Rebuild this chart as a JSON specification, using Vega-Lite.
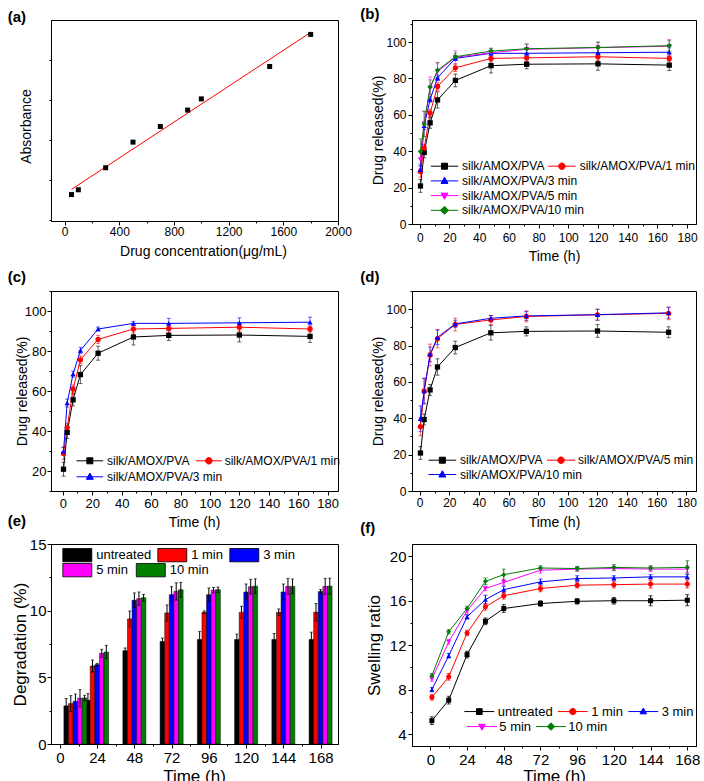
{
"$schema": "https://vega.github.io/schema/vega-lite/v6.json",
"padding": {"left": 7, "top": 6, "right": 0, "bottom": 0},
"config": {
  "font": "Liberation Sans",
  "view": {"stroke": "#000000", "strokeWidth": 1},
  "axis": {"domainColor": "#000000", "domainWidth": 1, "tickColor": "#000000", "tickWidth": 1, "tickSize": 4, "labelColor": "#000000", "titleColor": "#000000", "grid": false, "labelFont": "Liberation Sans", "titleFont": "Liberation Sans", "titleFontWeight": "normal", "labelOverlap": false, "labelFlush": false, "labelPadding": 2, "titleBaseline": "middle", "titleAlign": "center"},
  "legend": {"labelFont": "Liberation Sans", "labelColor": "#000000", "padding": 0},
  "title": {"font": "Liberation Sans", "fontSize": 15, "fontWeight": "bold", "anchor": "start", "frame": "group", "offset": 0, "baseline": "alphabetic", "color": "#000000"}
},
"datasets": {
  "calib": [{"c":50,"a":0.13},{"c":100,"a":0.25},{"c":300,"a":0.8},{"c":500,"a":1.44},{"c":700,"a":1.83},{"c":900,"a":2.24},{"c":1000,"a":2.52},{"c":1500,"a":3.33},{"c":1800,"a":4.13}],
  "calibfit": [{"c":50,"a":0.26},{"c":1800,"a":4.18}],
  "release": [
    {"s":"silk/AMOX/PVA","t":0.5,"v":20.9,"e":3.5},{"s":"silk/AMOX/PVA","t":3,"v":39.3,"e":3},{"s":"silk/AMOX/PVA","t":7,"v":55.6,"e":3},{"s":"silk/AMOX/PVA","t":12,"v":68.2,"e":4.5},{"s":"silk/AMOX/PVA","t":24,"v":78.9,"e":3.5},{"s":"silk/AMOX/PVA","t":48,"v":87.0,"e":4},{"s":"silk/AMOX/PVA","t":72,"v":87.8,"e":2.5},{"s":"silk/AMOX/PVA","t":120,"v":88.0,"e":3.5},{"s":"silk/AMOX/PVA","t":168,"v":87.3,"e":3},
    {"s":"silk/AMOX/PVA/1 min","t":0.5,"v":28.8,"e":3},{"s":"silk/AMOX/PVA/1 min","t":3,"v":41.7,"e":2},{"s":"silk/AMOX/PVA/1 min","t":7,"v":61.0,"e":2},{"s":"silk/AMOX/PVA/1 min","t":12,"v":75.6,"e":2},{"s":"silk/AMOX/PVA/1 min","t":24,"v":85.8,"e":2},{"s":"silk/AMOX/PVA/1 min","t":48,"v":91.0,"e":2},{"s":"silk/AMOX/PVA/1 min","t":72,"v":91.3,"e":2},{"s":"silk/AMOX/PVA/1 min","t":120,"v":91.9,"e":2},{"s":"silk/AMOX/PVA/1 min","t":168,"v":91.0,"e":1.5},
    {"s":"silk/AMOX/PVA/3 min","t":0.5,"v":29.9,"e":2},{"s":"silk/AMOX/PVA/3 min","t":3,"v":54.0,"e":2},{"s":"silk/AMOX/PVA/3 min","t":7,"v":68.5,"e":1.5},{"s":"silk/AMOX/PVA/3 min","t":12,"v":80.3,"e":1.5},{"s":"silk/AMOX/PVA/3 min","t":24,"v":91.0,"e":1},{"s":"silk/AMOX/PVA/3 min","t":48,"v":93.8,"e":1},{"s":"silk/AMOX/PVA/3 min","t":72,"v":93.8,"e":2.5},{"s":"silk/AMOX/PVA/3 min","t":120,"v":94.1,"e":2.5},{"s":"silk/AMOX/PVA/3 min","t":168,"v":94.4,"e":2.5},
    {"s":"silk/AMOX/PVA/5 min","t":0.5,"v":35.4,"e":5},{"s":"silk/AMOX/PVA/5 min","t":3,"v":55.0,"e":7},{"s":"silk/AMOX/PVA/5 min","t":7,"v":74.8,"e":6},{"s":"silk/AMOX/PVA/5 min","t":12,"v":83.8,"e":5},{"s":"silk/AMOX/PVA/5 min","t":24,"v":91.6,"e":3.5},{"s":"silk/AMOX/PVA/5 min","t":48,"v":94.1,"e":2.5},{"s":"silk/AMOX/PVA/5 min","t":72,"v":96.0,"e":3},{"s":"silk/AMOX/PVA/5 min","t":120,"v":96.9,"e":3},{"s":"silk/AMOX/PVA/5 min","t":168,"v":97.7,"e":3.5},
    {"s":"silk/AMOX/PVA/10 min","t":0.5,"v":39.8,"e":7},{"s":"silk/AMOX/PVA/10 min","t":3,"v":55.0,"e":7},{"s":"silk/AMOX/PVA/10 min","t":7,"v":75.2,"e":4},{"s":"silk/AMOX/PVA/10 min","t":12,"v":84.5,"e":4},{"s":"silk/AMOX/PVA/10 min","t":24,"v":91.9,"e":2},{"s":"silk/AMOX/PVA/10 min","t":48,"v":95.0,"e":1.5},{"s":"silk/AMOX/PVA/10 min","t":72,"v":96.3,"e":2.5},{"s":"silk/AMOX/PVA/10 min","t":120,"v":97.0,"e":3},{"s":"silk/AMOX/PVA/10 min","t":168,"v":98.0,"e":3}
  ],
  "degr": [
    {"s":"untreated","t":10,"v":2.86,"e":0.55},{"s":"untreated","t":24,"v":3.28,"e":0.5},{"s":"untreated","t":48,"v":7.0,"e":0.2},{"s":"untreated","t":72,"v":7.69,"e":0.25},{"s":"untreated","t":96,"v":7.84,"e":0.6},{"s":"untreated","t":120,"v":7.84,"e":0.4},{"s":"untreated","t":144,"v":7.84,"e":0.45},{"s":"untreated","t":168,"v":7.84,"e":0.55},
    {"s":"1 min","t":10,"v":3.03,"e":0.6},{"s":"1 min","t":24,"v":5.85,"e":0.45},{"s":"1 min","t":48,"v":9.38,"e":0.6},{"s":"1 min","t":72,"v":9.83,"e":0.6},{"s":"1 min","t":96,"v":9.88,"e":0.1},{"s":"1 min","t":120,"v":9.88,"e":0.45},{"s":"1 min","t":144,"v":9.88,"e":0.25},{"s":"1 min","t":168,"v":9.88,"e":0.65},
    {"s":"3 min","t":10,"v":3.2,"e":0.55},{"s":"3 min","t":24,"v":5.95,"e":0.1},{"s":"3 min","t":48,"v":10.78,"e":0.55},{"s":"3 min","t":72,"v":11.2,"e":0.6},{"s":"3 min","t":96,"v":11.2,"e":0.5},{"s":"3 min","t":120,"v":11.4,"e":0.6},{"s":"3 min","t":144,"v":11.4,"e":0.6},{"s":"3 min","t":168,"v":11.44,"e":0.15},
    {"s":"5 min","t":10,"v":3.43,"e":0.65},{"s":"5 min","t":24,"v":6.8,"e":0.3},{"s":"5 min","t":48,"v":10.9,"e":0.5},{"s":"5 min","t":72,"v":11.44,"e":0.65},{"s":"5 min","t":96,"v":11.54,"e":0.2},{"s":"5 min","t":120,"v":11.8,"e":0.55},{"s":"5 min","t":144,"v":11.82,"e":0.6},{"s":"5 min","t":168,"v":11.82,"e":0.6},
    {"s":"10 min","t":10,"v":3.45,"e":0.2},{"s":"10 min","t":24,"v":6.9,"e":0.5},{"s":"10 min","t":48,"v":10.97,"e":0.25},{"s":"10 min","t":72,"v":11.57,"e":0.55},{"s":"10 min","t":96,"v":11.57,"e":0.2},{"s":"10 min","t":120,"v":11.84,"e":0.55},{"s":"10 min","t":144,"v":11.82,"e":0.55},{"s":"10 min","t":168,"v":11.84,"e":0.6}
  ],
  "swell": [
    {"s":"untreated","t":1,"v":5.2,"e":0.35},{"s":"untreated","t":12,"v":7.05,"e":0.35},{"s":"untreated","t":24,"v":11.15,"e":0.3},{"s":"untreated","t":36,"v":14.15,"e":0.3},{"s":"untreated","t":48,"v":15.3,"e":0.35},{"s":"untreated","t":72,"v":15.75,"e":0.25},{"s":"untreated","t":96,"v":15.95,"e":0.25},{"s":"untreated","t":120,"v":16.0,"e":0.3},{"s":"untreated","t":144,"v":16.0,"e":0.45},{"s":"untreated","t":168,"v":16.05,"e":0.5},
    {"s":"1 min","t":1,"v":7.3,"e":0.25},{"s":"1 min","t":12,"v":9.15,"e":0.3},{"s":"1 min","t":24,"v":13.1,"e":0.25},{"s":"1 min","t":36,"v":15.45,"e":0.3},{"s":"1 min","t":48,"v":16.45,"e":0.3},{"s":"1 min","t":72,"v":17.1,"e":0.3},{"s":"1 min","t":96,"v":17.4,"e":0.25},{"s":"1 min","t":120,"v":17.45,"e":0.3},{"s":"1 min","t":144,"v":17.5,"e":0.35},{"s":"1 min","t":168,"v":17.5,"e":0.35},
    {"s":"3 min","t":1,"v":8.0,"e":0.2},{"s":"3 min","t":12,"v":11.05,"e":0.2},{"s":"3 min","t":24,"v":14.55,"e":0.2},{"s":"3 min","t":36,"v":16.1,"e":0.4},{"s":"3 min","t":48,"v":17.0,"e":0.3},{"s":"3 min","t":72,"v":17.7,"e":0.25},{"s":"3 min","t":96,"v":18.0,"e":0.25},{"s":"3 min","t":120,"v":18.05,"e":0.2},{"s":"3 min","t":144,"v":18.15,"e":0.2},{"s":"3 min","t":168,"v":18.15,"e":0.2},
    {"s":"5 min","t":1,"v":8.95,"e":0.2},{"s":"5 min","t":12,"v":12.3,"e":0.2},{"s":"5 min","t":24,"v":15.1,"e":0.2},{"s":"5 min","t":36,"v":17.1,"e":0.2},{"s":"5 min","t":48,"v":17.65,"e":0.25},{"s":"5 min","t":72,"v":18.75,"e":0.25},{"s":"5 min","t":96,"v":18.85,"e":0.2},{"s":"5 min","t":120,"v":18.9,"e":0.2},{"s":"5 min","t":144,"v":18.85,"e":0.2},{"s":"5 min","t":168,"v":18.85,"e":0.3},
    {"s":"10 min","t":1,"v":9.25,"e":0.2},{"s":"10 min","t":12,"v":13.2,"e":0.2},{"s":"10 min","t":24,"v":15.3,"e":0.2},{"s":"10 min","t":36,"v":17.75,"e":0.3},{"s":"10 min","t":48,"v":18.35,"e":0.5},{"s":"10 min","t":72,"v":18.95,"e":0.2},{"s":"10 min","t":96,"v":18.9,"e":0.2},{"s":"10 min","t":120,"v":19.0,"e":0.25},{"s":"10 min","t":144,"v":18.95,"e":0.2},{"s":"10 min","t":168,"v":19.0,"e":0.6}
  ]
},
"bounds": "flush",
"spacing": 524,
"resolve": {"scale": {"color": "independent"}, "legend": {"color": "independent"}},
"vconcat": [
 {"bounds": "flush", "spacing": 271,
  "resolve": {"scale": {"color": "independent"}, "legend": {"color": "independent"}},
  "vconcat": [
   {"bounds": "flush", "spacing": 74,
    "resolve": {"scale": {"color": "independent"}, "legend": {"color": "independent"}},
    "hconcat": [
     {"width": 287, "height": 201,
      "title": {"text": "(a)", "dx": -43.3, "dy": 9},
      "data": {"name": "calib"},
      "encoding": {
        "x": {"field": "c", "type": "quantitative", "scale": {"domain": [-100, 2000], "nice": false, "zero": false}, "axis": {"values": [0,200,400,600,800,1000,1200,1400,1600,1800,2000], "format": "d", "labelExpr": "datum.value % 400 === 0 ? datum.label : ''", "tickSize": {"condition": {"test": "datum.value % 400 !== 0", "value": 2}, "value": 4}, "title": "Drug concentration(μg/mL)", "labelFontSize": 12, "titleFontSize": 14, "labelPadding": 1, "titleX": 152, "titleY": 30}},
        "y": {"field": "a", "type": "quantitative", "scale": {"domain": [-0.53, 4.49], "nice": false, "zero": false}, "axis": {"values": [-0.5,0,0.5,1,1.5,2,2.5,3,3.5,4], "format": "d", "labelExpr": "datum.value % 1 === 0 ? datum.label : ''", "tickSize": {"condition": {"test": "datum.value % 1 !== 0", "value": 2}, "value": 4}, "title": "Absorbance", "labelFontSize": 12, "titleFontSize": 14, "labelPadding": 3, "titleX": -25, "titleY": 106}}
      },
      "layer": [
        {"data": {"name": "calibfit"}, "mark": {"type": "line", "color": "#ff0000", "strokeWidth": 1}},
        {"mark": {"type": "square", "color": "#000000", "size": 25, "opacity": 1}},
        {"data": {"values": [{}]}, "mark": {"type": "text", "align": "left", "baseline": "alphabetic", "fontSize": 12, "color": "#000000"},
         "encoding": {"x": {"datum": 1070}, "y": {"datum": 0.335}, "text": {"value": "y=0.00224x+0.14766"}}},
        {"data": {"values": [{}]}, "mark": {"type": "text", "align": "left", "baseline": "alphabetic", "fontSize": 12, "color": "#000000"},
         "encoding": {"x": {"datum": 1070}, "y": {"datum": -0.065}, "text": {"value": "R²=0.9957"}}}
      ]
     },
     {"bounds": "flush", "spacing": 0,
      "resolve": {"scale": {"color": "independent"}, "legend": {"color": "independent"}},
      "hconcat": [
       {"width": 284, "height": 204,
        "title": {"text": "(b)", "dx": -51.7, "dy": 8},
        "data": {"name": "release"},
        "encoding": {
          "x": {"field": "t", "type": "quantitative", "scale": {"domain": [-5.2, 186], "nice": false, "zero": false}, "axis": {"values": [0,10,20,30,40,50,60,70,80,90,100,110,120,130,140,150,160,170,180], "labelExpr": "datum.value % 20 === 0 ? datum.label : ''", "tickSize": {"condition": {"test": "datum.value % 20 !== 0", "value": 2}, "value": 4}, "title": "Time (h)", "labelFontSize": 12, "titleFontSize": 14, "labelPadding": 4, "titleX": 142, "titleY": 32}},
          "y": {"field": "v", "type": "quantitative", "scale": {"domain": [0, 112.1], "nice": false, "zero": false}, "axis": {"values": [0,10,20,30,40,50,60,70,80,90,100,110], "labelExpr": "datum.value % 20 === 0 ? datum.label : ''", "tickSize": {"condition": {"test": "datum.value % 20 !== 0", "value": 2}, "value": 4}, "title": "Drug released(%)", "labelFontSize": 12, "titleFontSize": 14, "labelPadding": 2, "titleX": -34, "titleY": 110}},
          "color": {"field": "s", "type": "nominal",
            "scale": {"domain": ["silk/AMOX/PVA","silk/AMOX/PVA/1 min","silk/AMOX/PVA/3 min","silk/AMOX/PVA/5 min","silk/AMOX/PVA/10 min"], "range": ["#000000","#ff0000","#0000ff","#ff00ff","#008000"]},
            "legend": {"orient": "none", "direction": "vertical", "legendX": 26.5, "legendY": 140.2, "title": null, "values": ["silk/AMOX/PVA","silk/AMOX/PVA/3 min","silk/AMOX/PVA/5 min","silk/AMOX/PVA/10 min"], "rowPadding": 2.7, "labelOffset": 11.5, "labelFontSize": 12, "symbolSize": 100, "symbolStrokeWidth": 1, "padding": 0,
              "encode": {"symbols": {"update": {
                "shape": {"signal": "['M-2.74,0H2.74M-0.6,-0.6H0.6V0.6H-0.6Z','M-2.74,0H2.74M0,-0.75L0.7,0.5H-0.7Z','M-2.74,0H2.74M0,0.75L0.7,-0.5H-0.7Z','M-2.74,0H2.74M0,-0.8L0.8,0L0,0.8L-0.8,0Z'][datum.index]"},
                "fill": {"signal": "['#000000','#0000ff','#ff00ff','#008000'][datum.index]"},
                "stroke": {"signal": "['#000000','#0000ff','#ff00ff','#008000'][datum.index]"},
                "strokeWidth": {"value": 1},
                "opacity": {"value": 1}}}}}}
        },
        "layer": [
          {"mark": {"type": "errorbar", "ticks": {"size": 4, "opacity": 0.6}, "rule": {"opacity": 0.6}, "thickness": 1}, "encoding": {"yError": {"field": "e"}}},
          {"mark": {"type": "line", "strokeWidth": 1}},
          {"transform": [{"filter": {"field": "s", "equal": "silk/AMOX/PVA"}}], "mark": {"type": "point", "shape": "square", "filled": true, "size": 28, "opacity": 1}},
          {"transform": [{"filter": {"field": "s", "equal": "silk/AMOX/PVA/1 min"}}], "mark": {"type": "point", "shape": "circle", "filled": true, "size": 28, "opacity": 1}},
          {"transform": [{"filter": {"field": "s", "equal": "silk/AMOX/PVA/3 min"}}], "mark": {"type": "point", "shape": "triangle-up", "filled": true, "size": 28, "opacity": 1}},
          {"transform": [{"filter": {"field": "s", "equal": "silk/AMOX/PVA/5 min"}}], "mark": {"type": "point", "shape": "triangle-down", "filled": true, "size": 28, "opacity": 1}},
          {"transform": [{"filter": {"field": "s", "equal": "silk/AMOX/PVA/10 min"}}], "mark": {"type": "point", "shape": "diamond", "filled": true, "size": 28, "opacity": 1}}
        ]
       },
       {"width": 1, "height": 1, "view": {"stroke": null},
        "data": {"name": "release"},
        "transform": [{"filter": {"field": "s", "equal": "silk/AMOX/PVA/1 min"}}],
        "mark": {"type": "point", "filled": true, "opacity": 0},
        "encoding": {"color": {"field": "s", "type": "nominal", "scale": {"domain": ["silk/AMOX/PVA/1 min"], "range": ["#ff0000"]},
          "legend": {"orient": "none", "direction": "vertical", "legendX": -140.1, "legendY": 140.2, "title": null, "labelOffset": 11.8, "labelFontSize": 12, "symbolSize": 100, "symbolStrokeWidth": 1, "padding": 0,
            "encode": {"symbols": {"update": {
              "shape": {"signal": "'M-2.74,0H2.74M0.65,0A0.65,0.65,0,1,1,-0.65,0A0.65,0.65,0,1,1,0.65,0Z'"},
              "fill": {"signal": "'#ff0000'"}, "stroke": {"signal": "'#ff0000'"},
              "strokeWidth": {"value": 1}, "opacity": {"value": 1}}}}}}}
       }
      ]
     }
    ]
   },
   {"bounds": "flush", "spacing": 74,
    "resolve": {"scale": {"color": "independent"}, "legend": {"color": "independent"}},
    "hconcat": [
     {"width": 287, "height": 200,
      "title": {"text": "(c)", "dx": -43.3, "dy": 4},
      "data": {"name": "release"},
      "transform": [{"filter": {"field": "s", "oneOf": ["silk/AMOX/PVA","silk/AMOX/PVA/1 min","silk/AMOX/PVA/3 min"]}}],
      "encoding": {
        "x": {"field": "t", "type": "quantitative", "scale": {"domain": [-8, 187], "nice": false, "zero": false}, "axis": {"values": [0,10,20,30,40,50,60,70,80,90,100,110,120,130,140,150,160,170,180], "labelExpr": "datum.value % 20 === 0 ? datum.label : ''", "tickSize": {"condition": {"test": "datum.value % 20 !== 0", "value": 2}, "value": 4}, "title": "Time (h)", "labelFontSize": 13, "titleFontSize": 14, "labelPadding": 2, "titleX": 143, "titleY": 31}},
        "y": {"field": "v", "type": "quantitative", "scale": {"domain": [10, 110], "nice": false, "zero": false}, "axis": {"values": [10,20,30,40,50,60,70,80,90,100,110], "labelExpr": "datum.value % 20 === 0 ? datum.label : ''", "tickSize": {"condition": {"test": "datum.value % 20 !== 0", "value": 2}, "value": 4}, "title": "Drug released(%)", "labelFontSize": 13, "titleFontSize": 14, "labelPadding": 1, "titleX": -29, "titleY": 100}},
        "color": {"field": "s", "type": "nominal",
          "scale": {"domain": ["silk/AMOX/PVA","silk/AMOX/PVA/1 min","silk/AMOX/PVA/3 min"], "range": ["#000000","#ff0000","#0000ff"]},
          "legend": {"orient": "none", "direction": "vertical", "legendX": 32.85, "legendY": 163.8, "title": null, "values": ["silk/AMOX/PVA","silk/AMOX/PVA/3 min"], "rowPadding": 4, "labelOffset": 11.15, "labelFontSize": 12, "symbolSize": 100, "symbolStrokeWidth": 1, "padding": 0,
            "encode": {"symbols": {"update": {
              "shape": {"signal": "['M-2.67,0H2.67M-0.6,-0.6H0.6V0.6H-0.6Z','M-2.67,0H2.67M0,-0.75L0.7,0.5H-0.7Z'][datum.index]"},
              "fill": {"signal": "['#000000','#0000ff'][datum.index]"},
              "stroke": {"signal": "['#000000','#0000ff'][datum.index]"},
              "strokeWidth": {"value": 1},
              "opacity": {"value": 1}}}}}}
      },
      "layer": [
        {"mark": {"type": "errorbar", "ticks": {"size": 4, "opacity": 0.6}, "rule": {"opacity": 0.6}, "thickness": 1}, "encoding": {"yError": {"field": "e"}}},
        {"mark": {"type": "line", "strokeWidth": 1}},
        {"transform": [{"filter": {"field": "s", "equal": "silk/AMOX/PVA"}}], "mark": {"type": "point", "shape": "square", "filled": true, "size": 28, "opacity": 1}},
        {"transform": [{"filter": {"field": "s", "equal": "silk/AMOX/PVA/1 min"}}], "mark": {"type": "point", "shape": "circle", "filled": true, "size": 28, "opacity": 1}},
        {"transform": [{"filter": {"field": "s", "equal": "silk/AMOX/PVA/3 min"}}], "mark": {"type": "point", "shape": "triangle-up", "filled": true, "size": 28, "opacity": 1}}
      ]
     },
     {"bounds": "flush", "spacing": 0,
      "resolve": {"scale": {"color": "independent"}, "legend": {"color": "independent"}},
      "hconcat": [
       {"width": 284, "height": 200,
        "title": {"text": "(d)", "dx": -51.7, "dy": 4},
        "data": {"name": "release"},
        "transform": [{"filter": {"field": "s", "oneOf": ["silk/AMOX/PVA","silk/AMOX/PVA/5 min","silk/AMOX/PVA/10 min"]}}],
        "encoding": {
          "x": {"field": "t", "type": "quantitative", "scale": {"domain": [-5.2, 186.5], "nice": false, "zero": false}, "axis": {"values": [0,10,20,30,40,50,60,70,80,90,100,110,120,130,140,150,160,170,180], "labelExpr": "datum.value % 20 === 0 ? datum.label : ''", "tickSize": {"condition": {"test": "datum.value % 20 !== 0", "value": 2}, "value": 4}, "title": "Time (h)", "labelFontSize": 12, "titleFontSize": 14, "labelPadding": 2, "titleX": 142, "titleY": 31}},
          "y": {"field": "v", "type": "quantitative", "scale": {"domain": [0, 110], "nice": false, "zero": false}, "axis": {"values": [0,10,20,30,40,50,60,70,80,90,100,110], "labelExpr": "datum.value % 20 === 0 ? datum.label : ''", "tickSize": {"condition": {"test": "datum.value % 20 !== 0", "value": 2}, "value": 4}, "title": "Drug released(%)", "labelFontSize": 12, "titleFontSize": 14, "labelPadding": 2, "titleX": -34, "titleY": 100}},
          "color": {"field": "s", "type": "nominal",
            "scale": {"domain": ["silk/AMOX/PVA","silk/AMOX/PVA/5 min","silk/AMOX/PVA/10 min"], "range": ["#000000","#ff0000","#0000ff"]},
            "legend": {"orient": "none", "direction": "vertical", "legendX": 24.35, "legendY": 163.2, "title": null, "values": ["silk/AMOX/PVA","silk/AMOX/PVA/10 min"], "rowPadding": 2.3, "labelOffset": 11.65, "labelFontSize": 12, "symbolSize": 100, "symbolStrokeWidth": 1, "padding": 0,
              "encode": {"symbols": {"update": {
                "shape": {"signal": "['M-2.77,0H2.77M-0.6,-0.6H0.6V0.6H-0.6Z','M-2.77,0H2.77M0,-0.75L0.7,0.5H-0.7Z'][datum.index]"},
                "fill": {"signal": "['#000000','#0000ff'][datum.index]"},
                "stroke": {"signal": "['#000000','#0000ff'][datum.index]"},
                "strokeWidth": {"value": 1},
                "opacity": {"value": 1}}}}}}
        },
        "layer": [
          {"mark": {"type": "errorbar", "ticks": {"size": 4, "opacity": 0.6}, "rule": {"opacity": 0.6}, "thickness": 1}, "encoding": {"yError": {"field": "e"}}},
          {"mark": {"type": "line", "strokeWidth": 1}},
          {"transform": [{"filter": {"field": "s", "equal": "silk/AMOX/PVA"}}], "mark": {"type": "point", "shape": "square", "filled": true, "size": 28, "opacity": 1}},
          {"transform": [{"filter": {"field": "s", "equal": "silk/AMOX/PVA/5 min"}}], "mark": {"type": "point", "shape": "circle", "filled": true, "size": 28, "opacity": 1}},
          {"transform": [{"filter": {"field": "s", "equal": "silk/AMOX/PVA/10 min"}}], "mark": {"type": "point", "shape": "triangle-up", "filled": true, "size": 28, "opacity": 1}}
        ]
       },
       {"width": 1, "height": 1, "view": {"stroke": null},
        "data": {"name": "release"},
        "transform": [{"filter": {"field": "s", "equal": "silk/AMOX/PVA/1 min"}}],
        "mark": {"type": "point", "filled": true, "opacity": 0},
        "encoding": {"color": {"field": "s", "type": "nominal", "scale": {"domain": ["silk/AMOX/PVA/1 min"], "range": ["#ff0000"]},
          "legend": {"orient": "none", "direction": "vertical", "legendX": -493.15, "legendY": 163.8, "title": null, "labelOffset": 9.85, "labelFontSize": 12, "symbolSize": 100, "symbolStrokeWidth": 1, "padding": 0,
            "encode": {"symbols": {"update": {
              "shape": {"signal": "'M-2.6,0H2.6M0.65,0A0.65,0.65,0,1,1,-0.65,0A0.65,0.65,0,1,1,0.65,0Z'"},
              "fill": {"signal": "'#ff0000'"}, "stroke": {"signal": "'#ff0000'"},
              "strokeWidth": {"value": 1}, "opacity": {"value": 1}}}}}}}
       },
       {"width": 1, "height": 1, "view": {"stroke": null},
        "data": {"name": "release"},
        "transform": [{"filter": {"field": "s", "equal": "silk/AMOX/PVA/5 min"}}],
        "mark": {"type": "point", "filled": true, "opacity": 0},
        "encoding": {"color": {"field": "s", "type": "nominal", "scale": {"domain": ["silk/AMOX/PVA/5 min"], "range": ["#ff0000"]},
          "legend": {"orient": "none", "direction": "vertical", "legendX": -142, "legendY": 163.2, "title": null, "labelOffset": 11, "labelFontSize": 12, "symbolSize": 100, "symbolStrokeWidth": 1, "padding": 0,
            "encode": {"symbols": {"update": {
              "shape": {"signal": "'M-2.84,0H2.84M0.65,0A0.65,0.65,0,1,1,-0.65,0A0.65,0.65,0,1,1,0.65,0Z'"},
              "fill": {"signal": "'#ff0000'"}, "stroke": {"signal": "'#ff0000'"},
              "strokeWidth": {"value": 1}, "opacity": {"value": 1}}}}}}}
       }
      ]
     }
    ]
   }
  ]
 },
 {"bounds": "flush", "spacing": 74,
  "resolve": {"scale": {"color": "independent"}, "legend": {"color": "independent"}},
  "hconcat": [
   {"width": 287, "height": 200,
    "title": {"text": "(e)", "dx": -43.3, "dy": -4},
    "data": {"name": "degr"},
    "encoding": {
      "x": {"field": "t", "type": "quantitative", "scale": {"domain": [-2.5, 176], "nice": false, "zero": false}, "axis": {"values": [0,12,24,36,48,60,72,84,96,108,120,132,144,156,168], "labelExpr": "datum.value % 24 === 0 ? datum.label : ''", "tickSize": {"condition": {"test": "datum.value % 24 !== 0", "value": 2}, "value": 4}, "title": "Time (h)", "labelFontSize": 15, "titleFontSize": 17, "labelPadding": 2, "titleX": 143, "titleY": 32}},
      "y": {"field": "v", "type": "quantitative", "stack": null, "scale": {"domain": [0, 15], "nice": false, "zero": false}, "axis": {"values": [0,2.5,5,7.5,10,12.5,15], "format": "d", "labelExpr": "datum.value % 5 === 0 ? datum.label : ''", "tickSize": {"condition": {"test": "datum.value % 5 !== 0", "value": 2}, "value": 4}, "title": "Degradation (%)", "labelFontSize": 15, "titleFontSize": 17, "labelPadding": 1, "titleX": -31, "titleY": 100}}
    },
    "layer": [
      {"mark": {"type": "bar", "orient": "vertical", "width": 4.6, "stroke": "#000000", "strokeWidth": 0.5, "xOffset": {"expr": "indexof(['untreated','1 min','3 min','5 min','10 min'], datum.s) * 4.6 - 9.2"}},
       "encoding": {"color": {"field": "s", "type": "nominal",
          "scale": {"domain": ["untreated","1 min","3 min","5 min","10 min"], "range": ["#000000","#ff0000","#0000ff","#ff00ff","#008000"]},
          "legend": {"orient": "none", "direction": "horizontal", "columns": 3, "legendX": 11.3, "legendY": -4.2, "title": null, "values": ["untreated","1 min","3 min"], "columnPadding": 4, "labelOffset": 3.9, "labelFontSize": 13, "symbolType": "M-1,-0.46H1V0.46H-1Z", "symbolSize": 841, "symbolStrokeWidth": 0.8, "padding": 0,
            "encode": {"symbols": {"update": {"stroke": {"value": "#000000"}, "strokeWidth": {"value": 0.8}, "opacity": {"value": 1}}}}}}}},
      {"mark": {"type": "errorbar", "color": "#000000", "thickness": 1,
        "rule": {"xOffset": {"expr": "indexof(['untreated','1 min','3 min','5 min','10 min'], datum.s) * 4.6 - 9.2"}},
        "ticks": {"size": 3, "xOffset": {"expr": "indexof(['untreated','1 min','3 min','5 min','10 min'], datum.s) * 4.6 - 9.2"}}},
       "encoding": {"yError": {"field": "e"}, "detail": {"field": "s", "type": "nominal"}}}
    ]
   },
   {"bounds": "flush", "spacing": 0,
    "resolve": {"scale": {"color": "independent"}, "legend": {"color": "independent"}},
    "hconcat": [
     {"width": 284, "height": 202,
      "title": {"text": "(f)", "dx": -51.7, "dy": -4},
      "data": {"name": "swell"},
      "encoding": {
        "x": {"field": "t", "type": "quantitative", "scale": {"domain": [-12, 173.7], "nice": false, "zero": false}, "axis": {"values": [0,12,24,36,48,60,72,84,96,108,120,132,144,156,168], "labelExpr": "datum.value % 24 === 0 ? datum.label : ''", "tickSize": {"condition": {"test": "datum.value % 24 !== 0", "value": 2}, "value": 4}, "title": "Time (h)", "labelFontSize": 15, "titleFontSize": 17, "labelPadding": 2, "titleX": 142, "titleY": 30}},
        "y": {"field": "v", "type": "quantitative", "scale": {"domain": [2.92, 21.11], "nice": false, "zero": false}, "axis": {"values": [4,6,8,10,12,14,16,18,20], "labelExpr": "datum.value % 4 === 0 ? datum.label : ''", "tickSize": {"condition": {"test": "datum.value % 4 !== 0", "value": 2}, "value": 4}, "title": "Swelling ratio", "labelFontSize": 15, "titleFontSize": 17, "labelPadding": 2, "titleX": -37.3, "titleY": 101}},
        "color": {"field": "s", "type": "nominal",
          "scale": {"domain": ["untreated","1 min","3 min","5 min","10 min"], "range": ["#000000","#ff0000","#0000ff","#ff00ff","#008000"]},
          "legend": {"orient": "none", "direction": "horizontal", "columns": 3, "legendX": 51.8, "legendY": 151.8, "title": null, "values": ["untreated","1 min","3 min"], "columnPadding": 2.5, "labelOffset": 2.9, "labelFontSize": 13, "symbolSize": 900, "symbolStrokeWidth": 1, "padding": 0,
            "encode": {"symbols": {"update": {
              "shape": {"signal": "['M-1,0H1M-0.19,-0.19H0.19V0.19H-0.19Z','M-1,0H1M0.21,0A0.21,0.21,0,1,1,-0.21,0A0.21,0.21,0,1,1,0.21,0Z','M-1,0H1M0,-0.24L0.22,0.15H-0.22Z'][datum.index]"},
              "fill": {"signal": "['#000000','#ff0000','#0000ff'][datum.index]"},
              "stroke": {"signal": "['#000000','#ff0000','#0000ff'][datum.index]"},
              "strokeWidth": {"value": 1},
              "opacity": {"value": 1}}}}}}
      },
      "layer": [
        {"mark": {"type": "errorbar", "ticks": {"size": 4}, "thickness": 1}, "encoding": {"yError": {"field": "e"}}},
        {"mark": {"type": "line", "strokeWidth": 1}},
        {"transform": [{"filter": {"field": "s", "equal": "untreated"}}], "mark": {"type": "point", "shape": "square", "filled": true, "size": 25, "opacity": 1}},
        {"transform": [{"filter": {"field": "s", "equal": "1 min"}}], "mark": {"type": "point", "shape": "circle", "filled": true, "size": 25, "opacity": 1}},
        {"transform": [{"filter": {"field": "s", "equal": "3 min"}}], "mark": {"type": "point", "shape": "triangle-up", "filled": true, "size": 25, "opacity": 1}},
        {"transform": [{"filter": {"field": "s", "equal": "5 min"}}], "mark": {"type": "point", "shape": "triangle-down", "filled": true, "size": 25, "opacity": 1}},
        {"transform": [{"filter": {"field": "s", "equal": "10 min"}}], "mark": {"type": "point", "shape": "diamond", "filled": true, "size": 25, "opacity": 1}}
      ]
     },
     {"width": 1, "height": 1, "view": {"stroke": null},
      "data": {"name": "degr"},
      "transform": [{"filter": {"field": "s", "oneOf": ["5 min","10 min"]}}],
      "mark": {"type": "point", "filled": true, "opacity": 0},
      "encoding": {"color": {"field": "s", "type": "nominal", "scale": {"domain": ["5 min","10 min"], "range": ["#ff00ff","#008000"]},
        "legend": {"orient": "none", "direction": "horizontal", "columns": 2, "legendX": -633.7, "legendY": 10.8, "title": null, "columnPadding": 5.5, "labelOffset": 3.9, "labelFontSize": 13, "symbolType": "M-1,-0.46H1V0.46H-1Z", "symbolSize": 841, "symbolStrokeWidth": 0.8, "padding": 0,
          "encode": {"symbols": {"update": {
            "shape": {"signal": "'M-1,-0.46H1V0.46H-1Z'"},
            "fill": {"signal": "['#ff00ff','#008000'][datum.index]"},
            "stroke": {"signal": "'#000000'"},
            "strokeWidth": {"value": 0.8}, "opacity": {"value": 1}}}}}}}
     },
     {"width": 1, "height": 1, "view": {"stroke": null},
      "data": {"name": "swell"},
      "transform": [{"filter": {"field": "s", "oneOf": ["5 min","10 min"]}}],
      "mark": {"type": "point", "filled": true, "opacity": 0},
      "encoding": {"color": {"field": "s", "type": "nominal", "scale": {"domain": ["5 min","10 min"], "range": ["#ff00ff","#008000"]},
        "legend": {"orient": "none", "direction": "horizontal", "columns": 2, "legendX": -230.5, "legendY": 166.8, "title": null, "columnPadding": 2, "labelOffset": 1.8, "labelFontSize": 13, "symbolSize": 900, "symbolStrokeWidth": 1, "padding": 0,
          "encode": {"symbols": {"update": {
            "shape": {"signal": "['M-1,0H1M0,0.24L0.22,-0.15H-0.22Z','M-1,0H1M0,-0.25L0.25,0L0,0.25L-0.25,0Z'][datum.index]"},
            "fill": {"signal": "['#ff00ff','#008000'][datum.index]"},
            "stroke": {"signal": "['#ff00ff','#008000'][datum.index]"},
            "strokeWidth": {"value": 1}, "opacity": {"value": 1}}}}}}}
     }
    ]
   }
  ]
 }
]
}
